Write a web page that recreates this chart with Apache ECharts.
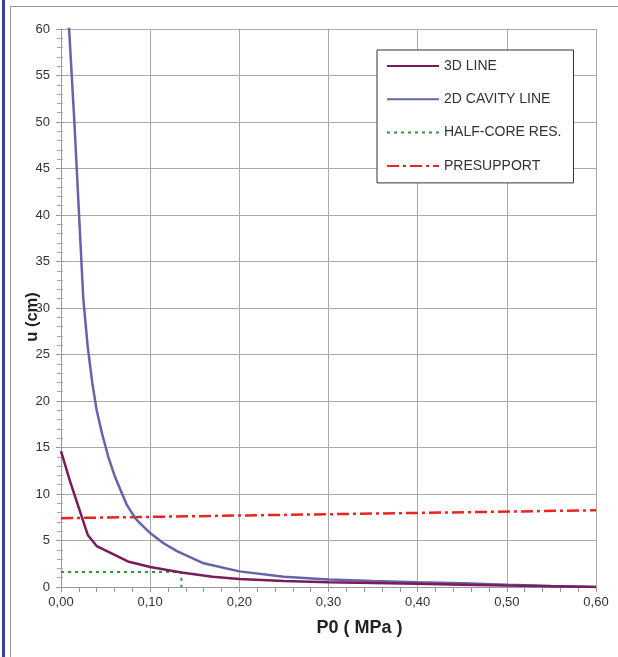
<!DOCTYPE html>
<html>
<head>
<meta charset="utf-8">
<script src="https://cdn.jsdelivr.net/npm/echarts@6/dist/echarts.min.js"></script>
<style>
html,body{margin:0;padding:0;background:#fff;}
#frame{position:absolute;left:0;top:0;width:618px;height:657px;}
#bar{position:absolute;left:2px;top:0;width:3px;height:657px;background:#3b3f9e;}
#box{position:absolute;left:10px;top:6px;width:610px;height:660px;border-left:1px solid #9a9a9a;border-top:1px solid #9a9a9a;}
#chart{position:absolute;left:0;top:0;width:618px;height:657px;}
</style>
</head>
<body>
<div id="frame"><div id="bar"></div><div id="box"></div></div>
<div id="chart"></div>
<script>
// P0 (MPa) / u (cm)
const line3dX = [0, 0.01, 0.02, 0.03, 0.04, 0.055, 0.075, 0.1, 0.135, 0.17, 0.2, 0.25, 0.3, 0.35, 0.4, 0.45, 0.5, 0.55, 0.6];
const line3dY = [14.6, 11.4, 8.5, 5.6, 4.4, 3.7, 2.75, 2.15, 1.55, 1.1, 0.85, 0.64, 0.5, 0.42, 0.35, 0.25, 0.15, 0.07, 0];

const cavity2dX = [0.0085, 0.015, 0.02, 0.025, 0.03, 0.035, 0.04, 0.046, 0.053, 0.06, 0.066, 0.074, 0.084, 0.1, 0.115, 0.13, 0.16, 0.2, 0.25, 0.3, 0.35, 0.4, 0.45, 0.5, 0.55, 0.6];
const cavity2dY = [61, 50, 40.5, 31, 25.8, 22, 19, 16.5, 14, 12, 10.6, 8.8, 7.3, 5.8, 4.7, 3.85, 2.55, 1.68, 1.1, 0.8, 0.65, 0.52, 0.4, 0.25, 0.12, 0];

const halfCoreX = [0, 0.135, 0.135];
const halfCoreY = [1.6, 1.6, 0];

const presupportX = [0, 0.6];
const presupportY = [7.4, 8.25];

const seriesNames = ['3D LINE', '2D CAVITY LINE', 'HALF-CORE RES.', 'PRESUPPORT'];
const xTickLabels = ['0,00', '0,10', '0,20', '0,30', '0,40', '0,50', '0,60'];
const yTickLabels = ['0', '5', '10', '15', '20', '25', '30', '35', '40', '45', '50', '55', '60'];

const pairs = (xs, ys) => xs.map((x, i) => [x, ys[i]]);

const font = 'Liberation Sans, Arial, sans-serif';
const chart = echarts.init(document.getElementById('chart'), null, {renderer: 'canvas'});

const xBase = {
  type: 'value', min: 0, max: 0.6, interval: 0.1
};
const yBase = {
  type: 'value', min: 0, max: 60, interval: 5
};

chart.setOption({
  animation: false,
  backgroundColor: 'transparent',
  grid: {left: 61, right: 22, top: 29, bottom: 70, containLabel: false},
  xAxis: [
    Object.assign({}, xBase, {
      name: 'P0 ( MPa )', nameLocation: 'middle', nameGap: 32, nameMoveOverlap: false,
      nameTextStyle: {fontFamily: font, fontSize: 18, fontWeight: 'bold', color: '#222', padding: [0, 0, 0, 62]},
      axisLine: {show: true, onZero: false, lineStyle: {color: '#999', width: 1}},
      axisTick: {show: true, length: 5, lineStyle: {color: '#999'}},
      minorTick: {show: true, splitNumber: 5, length: 5, lineStyle: {color: '#999'}},
      axisLabel: {margin: 9, fontFamily: font, fontSize: 13, color: '#333',
        formatter: (v) => xTickLabels[Math.round(v * 10)]},
      splitLine: {show: true, lineStyle: {color: '#aaa', width: 1}}
    })
  ],
  yAxis: [
    Object.assign({}, yBase, {
      name: 'u (cm)', nameLocation: 'middle', nameGap: 20, nameRotate: 90, nameMoveOverlap: false,
      nameTextStyle: {fontFamily: font, fontSize: 16.5, fontWeight: 'bold', color: '#222', padding: [0, 18, 0, 0]},
      axisLine: {show: true, onZero: false, lineStyle: {color: '#999', width: 1}},
      axisTick: {show: true, length: 5, lineStyle: {color: '#999'}},
      minorTick: {show: true, splitNumber: 5, length: 4, lineStyle: {color: '#aaa'}},
      axisLabel: {margin: 11, fontFamily: font, fontSize: 13, color: '#333',
        formatter: (v) => yTickLabels[Math.round(v / 5)]},
      splitLine: {show: true, lineStyle: {color: '#aaa', width: 1}}
    }),
    Object.assign({}, yBase, {
      position: 'left',
      axisLine: {show: false},
      axisTick: {show: true, inside: true, length: 3, lineStyle: {color: '#999'}},
      minorTick: {show: true, splitNumber: 5, length: 2, lineStyle: {color: '#aaa'}},
      axisLabel: {show: false},
      splitLine: {show: false}
    })
  ],
  legend: {
    show: true, orient: 'vertical', left: 377, top: 50,
    padding: [8, 12, 9, 9],
    itemWidth: 52, itemHeight: 14, itemGap: 17.3,
    itemStyle: {opacity: 0},
    backgroundColor: '#fff', borderColor: '#333', borderWidth: 1,
    textStyle: {fontFamily: font, fontSize: 14, lineHeight: 16, color: '#333'},
    data: seriesNames
  },
  series: [
    {
      name: seriesNames[0], type: 'line', data: pairs(line3dX, line3dY),
      symbol: 'none', smooth: false, clip: true, z: 4,
      lineStyle: {color: '#7b1a5c', width: 2.5}, itemStyle: {color: '#7b1a5c'}
    },
    {
      name: seriesNames[1], type: 'line', data: pairs(cavity2dX, cavity2dY),
      symbol: 'none', smooth: false, clip: true, z: 3,
      lineStyle: {color: '#6464a8', width: 2.5}, itemStyle: {color: '#6464a8'}
    },
    {
      name: seriesNames[2], type: 'line', data: pairs(halfCoreX, halfCoreY),
      symbol: 'none', clip: true, z: 2,
      lineStyle: {color: '#2a9a3a', width: 2, type: [3, 4]}, itemStyle: {color: '#2a9a3a'}
    },
    {
      name: seriesNames[3], type: 'line', data: pairs(presupportX, presupportY),
      symbol: 'none', clip: true, z: 2,
      lineStyle: {color: '#ee2222', width: 2.5, type: [12, 4, 3, 4]}, itemStyle: {color: '#ee2222'}
    }
  ]
});
</script>
</body>
</html>
